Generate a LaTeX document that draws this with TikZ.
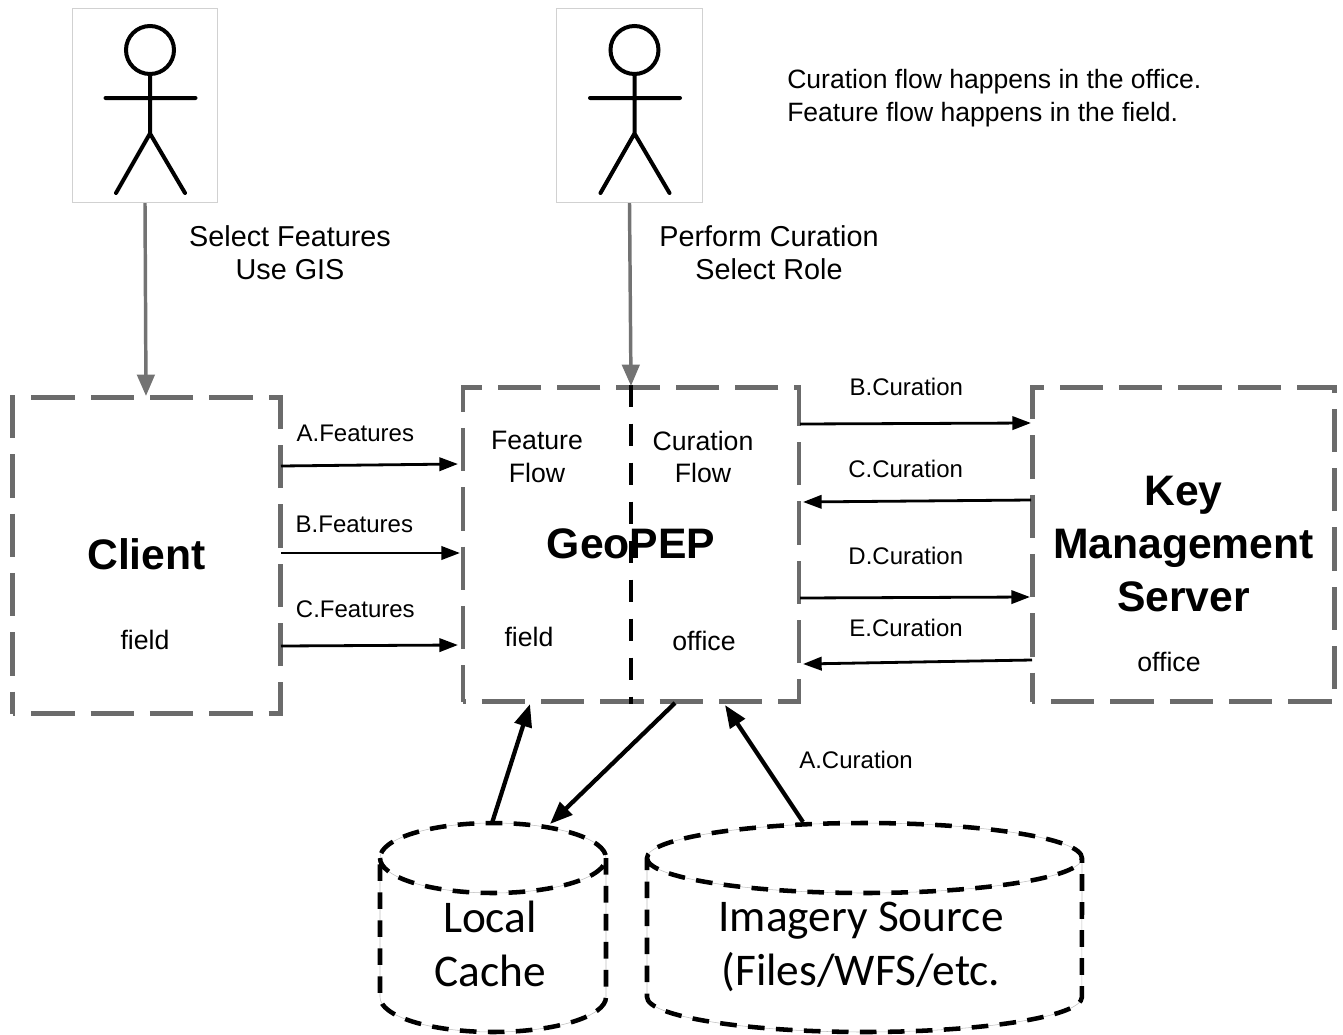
\documentclass[tikz,border=0pt]{standalone}
\usepackage{fontspec}
\setmainfont{Liberation Sans}
\newfontfamily\dbfont{Carlito}
\usetikzlibrary{arrows.meta, positioning}

\tikzset{
	mainbox/.style={draw=black!58,line width=3.7pt,dash pattern=on 32.5pt off 12pt,dash phase=30.5pt,inner sep=0pt,
		font=\fontsize{32}{39.75}\selectfont\bfseries,align=center},
	userbox/.style={draw=black!18,line width=.6pt,minimum width=109pt,minimum height=146pt,inner sep=0pt},
	stick/.style={line width=3pt,line cap=round},
	actorline/.style={color=black!55,line width=2.6pt,-{Triangle[length=16pt,width=13pt]}},
	flow/.style={color=black,line width=2.1pt,-{Triangle[length=14pt,width=10pt]}},
	fatflow/.style={color=black,line width=3.2pt,-{Triangle[length=17pt,width=13pt]}},
	store/.style={draw=black,line width=3.4pt,dash pattern=on 12.5pt off 8.5pt,
		preaction={draw=black!25,line width=.4pt,solid}},
	storetext/.style={font=\dbfont\fontsize{34}{40.5}\selectfont,align=center,inner sep=0pt},
	flowtext/.style={font=\fontsize{18}{22}\selectfont,inner sep=0pt},
	plaintext/.style={font=\fontsize{20}{24.4}\selectfont,align=center,inner sep=0pt},
	steptext/.style={font=\fontsize{21.6}{24.75}\selectfont,align=center,inner sep=0pt}
}

\begin{document}
\begin{tikzpicture}[x=.75pt,y=-.75pt]
	\useasboundingbox (0,0) rectangle (1343,1035);
	% boxes
	\node[mainbox,minimum width=201pt,minimum height=237pt] (client) at (146.5,555.5) {\raisebox{1.5pt}{Client}};
	\node[mainbox,minimum width=252pt,minimum height=236pt] (geopep) at (631,544.5) {\raisebox{.75pt}{GeoPEP}};
	\node[mainbox,minimum width=227pt,minimum height=236pt] (kms) at (1183.5,544.5) {Key\\Management\\Server};
	\node[plaintext] (clientplace) at (145,640) {field};
	\node[plaintext] (featplace) at (529,637) {field};
	\node[plaintext] (curplace) at (704,641) {office};
	\node[plaintext] (kmsplace) at (1169,662) {office};
	\node[plaintext] (featflow) at (537,457) {Feature\\Flow};
	\node[plaintext] (curflow) at (703,457) {Curation\\Flow};
	\draw[line width=3.5pt,dash pattern=on 16.5pt off 12.75pt] (geopep.north) -- (geopep.south);
	% actors
	\node[userbox] (user1) at (145,105.5) {};
	\node[userbox] (user2) at (629.5,105.5) {};
	\foreach \who in {user1,user2}
		\draw[stick,shift={(\who)}] (5,-55.5) circle [radius=18pt] (5,-31.5) -- (5,28)
			(-39.5,-7.5) -- (50.5,-7.5) (-29,87.5) -- (5,28) -- (40,87.5);
	\node[steptext] (sel1) at (290,253) {Select Features\\Use GIS};
	\node[steptext] (sel2) at (769,253) {Perform Curation\\Select Role};
	\node[plaintext,align=left,anchor=west,font=\fontsize{19.9}{24.75}\selectfont] (note) at (787,98)
		{Curation flow happens in the office.\\Feature flow happens in the field.};
	\coordinate (client top) at (146,396);
	\coordinate (geo top) at (631,386);
	\path[actorline]
		(user1.south) edge (client top)
		(user2.south) edge (geo top);
	% flows
	\coordinate (c1) at (281,466);
	\coordinate (g1) at (458,464);
	\coordinate (c2) at (281,553);
	\coordinate (g2) at (460,553);
	\coordinate (c3) at (281,646);
	\coordinate (g3) at (458,645);
	\coordinate (g4) at (800,424);
	\coordinate (k4) at (1031,423);
	\coordinate (k5) at (1031,500);
	\coordinate (g5) at (803,502);
	\coordinate (g6) at (800,598);
	\coordinate (k6) at (1030,597);
	\coordinate (k7) at (1032,660);
	\coordinate (g7) at (803,664);
	\path[flow]
		(c1) edge node [flowtext,pos=.42,yshift=24pt] {A.Features} (g1)
		(c2) edge node [flowtext,pos=.41,yshift=21.5pt] {B.Features} (g2)
		(c3) edge node [flowtext,pos=.42,yshift=27pt] {C.Features} (g3)
		(g4) edge node [flowtext,pos=.46,yshift=27.5pt] {B.Curation} (k4)
		(k5) edge node [flowtext,pos=.55,yshift=24pt] {C.Curation} (g5)
		(g6) edge node [flowtext,pos=.46,yshift=31pt] {D.Curation} (k6)
		(k7) edge node [flowtext,pos=.55,yshift=26pt] {E.Curation} (g7);
	% stores
	\foreach \lx/\rx/\rr in {380/606/84.75pt,647/1082/163.1pt}
		\draw[store] (\lx,858) arc [start angle=180,end angle=540,x radius=\rr,y radius=26.25pt]
			-- (\lx,997) arc [start angle=180,end angle=360,x radius=\rr,y radius=26.25pt] -- (\rx,858);
	\node[storetext] (cache) at (490,944) {Local\\Cache};
	\node[storetext] (imagery) at (861,947) {Imagery Source\\(Files/WFS/etc.};
	\coordinate (cache out) at (492,823);
	\coordinate (cache in) at (550,824);
	\coordinate (geo cache in) at (530,704);
	\coordinate (geo out) at (675,703);
	\coordinate (imagery out) at (803,822);
	\coordinate (geo imagery in) at (725,705);
	\path[fatflow]
		(cache out) edge (geo cache in)
		(geo out) edge (cache in)
		(imagery out) edge (geo imagery in);
	\node[flowtext] (acur) at (856,760) {A.Curation};
\end{tikzpicture}
\end{document}
